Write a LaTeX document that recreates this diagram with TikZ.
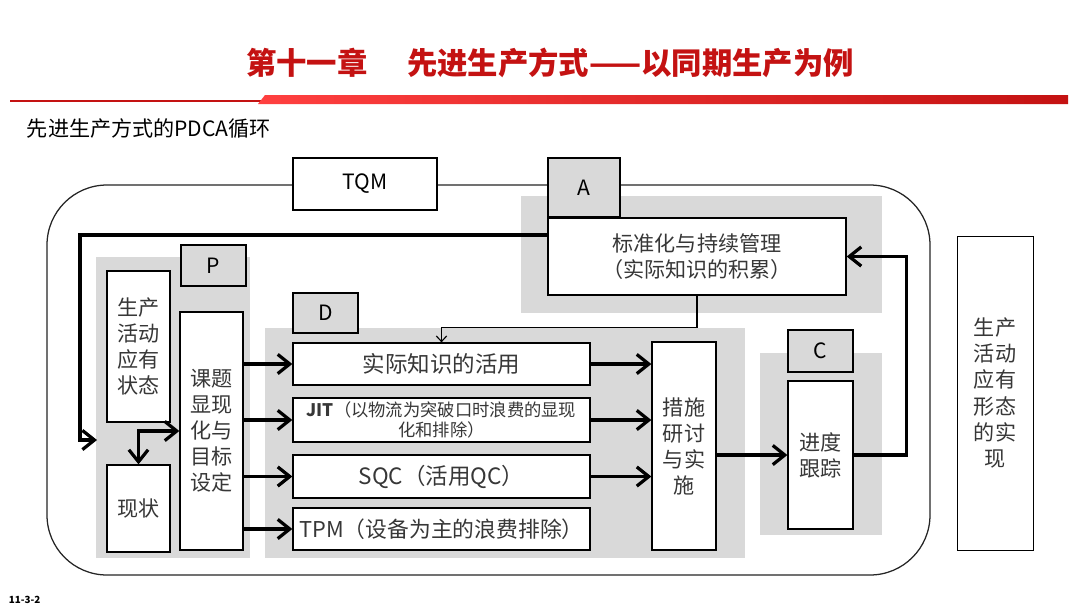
\documentclass[tikz,border=0pt]{standalone}
\usepackage{fontspec}
\setmainfont{Noto Sans CJK SC}
\usepackage{tikz}
\usetikzlibrary{arrows.meta,positioning,calc}
\definecolor{panel}{RGB}{217,217,217}
\definecolor{title}{RGB}{196,18,18}
\definecolor{ink}{RGB}{55,55,55}

\begin{document}
\begin{tikzpicture}[x=0.025cm,y=-0.025cm, box/.style={draw,line width=0.9pt,fill=white,inner sep=0pt,text=ink,align=center,font=\fontsize{15}{18.5}\selectfont}, tag/.style={box,fill=panel,text=black}, row/.style={box,minimum width=7.425cm,font=\fontsize{16}{19}\selectfont}, edge/.style={line width=2.3pt,->,>={Straight Barb[length=3mm,width=4.8mm]}}, feed/.style={line width=0.8pt,->,>={Straight Barb[length=1.4mm,width=2.6mm]}}]
\fill[white] (0,0) rectangle (1080,608);
\useasboundingbox (0,0) rectangle (1080,608);

% heading
\node (head) [text=title,font=\bfseries\fontsize{21.6}{24}\selectfont] at (550,63) {第十一章\hspace{1.3em}先进生产方式——以同期生产为例};
\fill[title] (10,100.2) rectangle (262,102.2);
\shade[left color=red!75, right color=title] (258,104) -- (265,95) -- (1068,95) -- (1068,104) -- cycle;
\node (sub) [anchor=west,font=\fontsize{15}{18}\selectfont] at (22,128) {先进生产方式的PDCA循环};
\node (page) [anchor=west,font=\bfseries\fontsize{7}{8}\selectfont] at (4,600) {11-3-2};

% loop and panels
\draw[line width=0.9pt,rounded corners=1.5cm,draw=black!85] (47,185) rectangle (930,575);
\fill[panel] (521,196) rectangle (882,313);
\fill[panel] (96,257) rectangle (250,558);
\fill[panel] (265,328) rectangle (745,558);
\fill[panel] (760,353) rectangle (882,535);

\node (tqm) [box,text=black,minimum width=3.6cm,minimum height=1.3cm] at (365,184) {TQM};
\node (lblA) [tag,minimum width=1.8cm,minimum height=1.475cm] at (584,187.5) {A};
\node (std) [box,minimum width=7.45cm,minimum height=1.925cm] at (697,256.5) {标准化与持续管理\\（实际知识的积累）};

\node (lblP) [tag,minimum width=1.625cm,minimum height=1.025cm] at (213.5,265.5) {P};
\node (ideal) [box,minimum width=1.575cm,minimum height=3.775cm] at (138.5,346.5) {生产\\活动\\应有\\状态};
\node (now) [box,minimum width=1.575cm,minimum height=2.175cm] at (138.5,508.5) {现状};
\node (goal) [box,minimum width=1.575cm,minimum height=5.95cm] at (211.5,431) {课题\\显现\\化与\\目标\\设定};

\node (lblD) [tag,minimum width=1.625cm,minimum height=1cm] at (325.5,313) {D};
\node (d1) [row,minimum height=1.05cm] at (441.5,364) {实际知识的活用};
\node (d2) [row,minimum height=1.1cm,font=\fontsize{12.3}{14.5}\selectfont] at (441.5,420) {\textbf{JIT}（以物流为突破口时浪费的显现\\化和排除）};
\node (d3) [row,minimum height=1.075cm] at (441.5,476.5) {SQC（活用QC）};
\node (d4) [row,minimum height=1.05cm,font=\fontsize{15.5}{18}\selectfont] at (441.5,529) {TPM（设备为主的浪费排除）};
\node (act) [box,minimum width=1.6cm,minimum height=5.2cm] at (684,446) {措施\\研讨\\与实\\施};

\node (lblC) [tag,minimum width=1.625cm,minimum height=1.05cm] at (820.5,351) {C};
\node (chk) [box,minimum width=1.625cm,minimum height=3.7cm] at (820.5,455) {进度\\跟踪};

\node (real) [box,line width=0.6pt,minimum width=1.9cm,minimum height=7.85cm] at (995,393) {生产\\活动\\应有\\形态\\的实\\现};

\coordinate (fbc) at (80,440);
\coordinate (pin) at (97,440);

% connectors
\draw [edge] ([yshift=0.54cm]std.west) -| (fbc) -- (pin);
\draw [edge,<->] (now.north) |- (goal.west);
\foreach \d in {d1,d2,d3,d4}
  \draw [edge] (goal.east |- \d) -- (\d.west);
\foreach \d in {d1,d2,d3}
  \draw [edge] (\d.east) -- (act.west |- \d);
\draw [edge] (act.east |- chk) -- (chk.west);
\draw [edge] (chk.east) -- ++(53,0) |- (std.east);
\draw [feed] (std.south) -- ++(0,32) -| (d1.north);
\end{tikzpicture}
\end{document}
